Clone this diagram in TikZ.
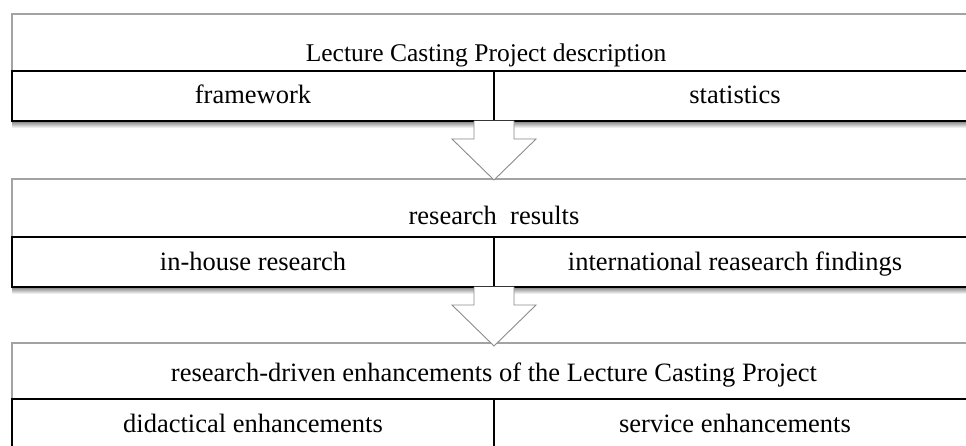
\documentclass[tikz,border=0pt]{standalone}
\usepackage{fontspec}
\setmainfont{Liberation Serif}
\usetikzlibrary{calc}
\newcommand\diafont{\fontsize{26.5}{31}\selectfont}
\newcommand\diafonttop{\fontsize{25.5}{30}\selectfont}
\begin{document}
\begin{tikzpicture}[x=1pt,y=-1pt,
  sect/.style={draw=black!36, line width=1.1pt, fill=white, anchor=north west, minimum width=978pt, inner sep=0pt, outer sep=0pt},
  cell/.style={draw=black, line width=1.3pt, fill=white, anchor=north west, minimum width=482pt, minimum height=50pt, inner sep=0pt, outer sep=0pt, text height=18pt, text depth=2pt, font=\diafont},
  head/.style={anchor=base, inner sep=0pt, font=\diafont},
  rowshadow/.style={top color=black!50, bottom color=white},
  blockarrow/.style={fill=white, draw=black!45, line width=0.9pt, line join=miter},
  arrowshadow/.style={fill=black!20}
]
\useasboundingbox (0,0) rectangle (966,446);
\clip (0,0) rectangle (966,446);
% section frames
\node[sect, minimum height=107pt] (S1) at (12,14) {};
\node[sect, minimum height=108pt] (S2) at (12,179) {};
\node[sect, minimum height=120pt] (S3) at (12,343) {};
% row shadows
\shade[rowshadow] (12,121) rectangle (990,128);
\shade[rowshadow] (12,287) rectangle (990,294);
% cells
\node[cell] (F1) at (12,71) {framework};
\node[cell] (ST) at (494,71) {statistics};
\node[cell] (IH) at (12,237) {in-house research};
\node[cell] (IR) at (494,237) {international reasearch findings};
\node[cell] (DE) at (12,399) {didactical enhancements};
\node[cell] (SE) at (494,399) {service enhancements};
% block arrows
\foreach \src in {F1,IH}{
  \fill[arrowshadow,xshift=2pt,yshift=-2pt] ($(\src.south east)+(-20,0)$) -- ++(0,18) -- ++(-22,0) -- ++(42,41) -- ++(42,-41) -- ++(-22,0) -- ++(0,-18) -- cycle;
  \draw[blockarrow] ($(\src.south east)+(-20,0)$) -- ++(0,18) -- ++(-22,0) -- ++(42,41) -- ++(42,-41) -- ++(-22,0) -- ++(0,-18);
}
% headers
\node[head, font=\diafonttop] (H1) at (486,62) {Lecture Casting Project description};
\node[head] (H2) at (494,225) {research\ \ results};
\node[head] (H3) at (494,381) {research-driven enhancements of the Lecture Casting Project};
\end{tikzpicture}
\end{document}
